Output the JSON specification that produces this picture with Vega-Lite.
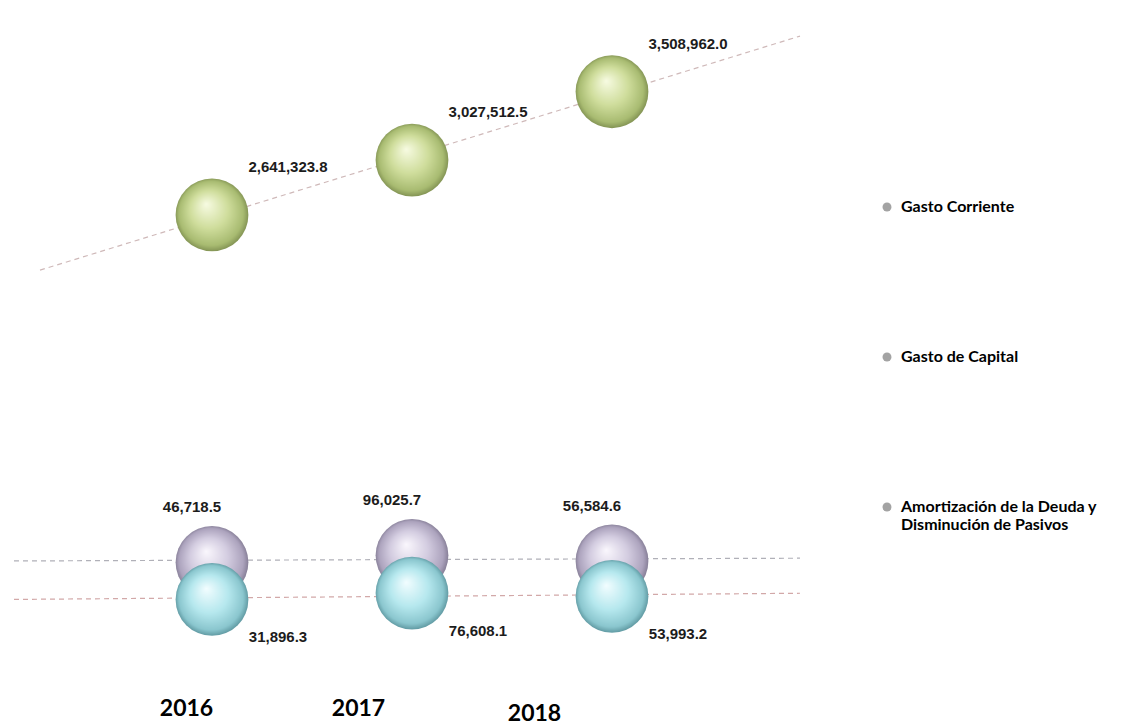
{
  "$schema": "https://vega.github.io/schema/vega-lite/v6.json",
  "width": 800,
  "height": 590,
  "autosize": {"type": "none"},
  "padding": {"left": 12, "top": 0, "right": 316, "bottom": 135},
  "background": "white",
  "config": {"view": {"stroke": null}},
  "data": {
    "values": [
      {"year": 2016, "serie": "Gasto Corriente", "value": 2641323.8},
      {"year": 2017, "serie": "Gasto Corriente", "value": 3027512.5},
      {"year": 2018, "serie": "Gasto Corriente", "value": 3508962.0},
      {"year": 2016, "serie": "Gasto de Capital", "value": 46718.5},
      {"year": 2017, "serie": "Gasto de Capital", "value": 96025.7},
      {"year": 2018, "serie": "Gasto de Capital", "value": 56584.6},
      {"year": 2016, "serie": "Amortización de la Deuda y Disminución de Pasivos", "value": 31896.3},
      {"year": 2017, "serie": "Amortización de la Deuda y Disminución de Pasivos", "value": 76608.1},
      {"year": 2018, "serie": "Amortización de la Deuda y Disminución de Pasivos", "value": 53993.2}
    ]
  },
  "encoding": {
    "x": {
      "field": "year", "type": "quantitative",
      "scale": {"domain": [2015, 2019], "nice": false, "zero": false},
      "axis": {
        "title": null, "domain": false, "ticks": false, "grid": false,
        "values": [2016, 2017, 2018], "format": "d",
        "labelFont": "Lato", "labelFontSize": 23, "labelFontWeight": "bold", "labelColor": "#000000",
        "labelPadding": {"condition": {"test": "datum.value === 2018", "value": 112}, "value": 107},
        "labelOffset": {"condition": [{"test": "datum.value === 2016", "value": -26}, {"test": "datum.value === 2017", "value": -54}], "value": -78}
      }
    },
    "y": {
      "field": "value", "type": "quantitative",
      "scale": {"domain": [0, 4155000], "nice": false, "zero": false},
      "axis": null
    }
  },
  "layer": [
    {
      "transform": [
        {"filter": "datum.serie === 'Gasto Corriente'"},
        {"regression": "value", "on": "year", "extent": [2015.14, 2018.94]}
      ],
      "mark": {"type": "line", "strokeDash": [5, 4], "strokeWidth": 1.2, "color": "#cfb9b9"}
    },
    {
      "transform": [
        {"filter": "datum.serie === 'Gasto de Capital'"},
        {"regression": "value", "on": "year", "extent": [2015.01, 2018.94]}
      ],
      "mark": {"type": "line", "strokeDash": [5, 4], "strokeWidth": 1.2, "color": "#b0b0b8", "yOffset": -21}
    },
    {
      "transform": [
        {"filter": "datum.serie === 'Amortización de la Deuda y Disminución de Pasivos'"},
        {"regression": "value", "on": "year", "extent": [2015.01, 2018.94]}
      ],
      "mark": {"type": "line", "strokeDash": [5, 4], "strokeWidth": 1.2, "color": "#d2a8a8", "yOffset": 14}
    },
    {
      "transform": [{"filter": "false"}],
      "mark": {"type": "point", "filled": true, "opacity": 1, "fill": "#a3a3a3", "stroke": "#7a7a7a", "strokeWidth": 0.6},
      "encoding": {
        "shape": {
          "field": "serie", "type": "nominal",
          "scale": {"domain": ["Gasto Corriente", "Gasto de Capital", "Amortización de la Deuda y Disminución de Pasivos"], "range": ["circle", "circle", "circle"]},
          "legend": {
            "title": null, "orient": "none", "legendX": 867, "legendY": 199, "direction": "vertical",
            "rowPadding": 134, "symbolSize": 80, "symbolFillColor": "#a3a3a3", "symbolStrokeColor": "#7a7a7a", "symbolStrokeWidth": 0.6,
            "labelFont": "Lato", "labelFontSize": 16, "labelFontWeight": "bold",
            "labelColor": "#000000", "labelOffset": 6, "labelLimit": 300,
            "labelExpr": "datum.label === 'Amortización de la Deuda y Disminución de Pasivos' ? ['Amortización de la Deuda y', 'Disminución de Pasivos'] : datum.label"
          }
        }
      }
    },
    {
      "transform": [{"filter": "datum.serie === 'Gasto de Capital'"}],
      "mark": {
        "type": "point", "filled": true, "size": 5300, "opacity": 1, "strokeWidth": 0, "yOffset": -21,
        "fill": {"gradient": "radial", "x1": 0.42, "y1": 0.35, "r1": 0, "x2": 0.5, "y2": 0.5, "r2": 0.52,
          "stops": [{"offset": 0, "color": "#faf7fd"}, {"offset": 0.5, "color": "#d3cce0"}, {"offset": 0.85, "color": "#aca3bd"}, {"offset": 1, "color": "#7c758d"}]}
      },
      "encoding": {
        "shape": {
          "field": "serie", "type": "nominal",
          "scale": {"domain": ["Gasto Corriente", "Gasto de Capital", "Amortización de la Deuda y Disminución de Pasivos"], "range": ["circle", "circle", "circle"]}
        }
      }
    },
    {
      "transform": [{"filter": "datum.serie === 'Amortización de la Deuda y Disminución de Pasivos'"}],
      "mark": {
        "type": "point", "filled": true, "size": 5300, "opacity": 1, "strokeWidth": 0, "yOffset": 14,
        "fill": {"gradient": "radial", "x1": 0.42, "y1": 0.35, "r1": 0, "x2": 0.5, "y2": 0.5, "r2": 0.52,
          "stops": [{"offset": 0, "color": "#f2fdff"}, {"offset": 0.5, "color": "#b6e8ee"}, {"offset": 0.85, "color": "#8ac6ce"}, {"offset": 1, "color": "#568f98"}]}
      },
      "encoding": {
        "shape": {
          "field": "serie", "type": "nominal",
          "scale": {"domain": ["Gasto Corriente", "Gasto de Capital", "Amortización de la Deuda y Disminución de Pasivos"], "range": ["circle", "circle", "circle"]}
        }
      }
    },
    {
      "transform": [{"filter": "datum.serie === 'Gasto Corriente'"}],
      "mark": {
        "type": "point", "filled": true, "size": 5300, "opacity": 1, "strokeWidth": 0,
        "fill": {"gradient": "radial", "x1": 0.42, "y1": 0.35, "r1": 0, "x2": 0.5, "y2": 0.5, "r2": 0.52,
          "stops": [{"offset": 0, "color": "#f7fbe2"}, {"offset": 0.5, "color": "#cfdd9c"}, {"offset": 0.85, "color": "#a8bb71"}, {"offset": 1, "color": "#7a8a4d"}]}
      },
      "encoding": {
        "shape": {
          "field": "serie", "type": "nominal",
          "scale": {"domain": ["Gasto Corriente", "Gasto de Capital", "Amortización de la Deuda y Disminución de Pasivos"], "range": ["circle", "circle", "circle"]}
        }
      }
    },
    {
      "transform": [{"filter": "datum.serie === 'Gasto Corriente'"}],
      "mark": {"type": "text", "font": "Liberation Sans", "fontSize": 15, "fontWeight": "bold", "color": "#1c1c1c", "dx": 76, "dy": -48},
      "encoding": {"text": {"field": "value", "type": "quantitative", "format": ",.1f"}}
    },
    {
      "transform": [{"filter": "datum.serie === 'Gasto de Capital'"}],
      "mark": {"type": "text", "font": "Liberation Sans", "fontSize": 15, "fontWeight": "bold", "color": "#1c1c1c", "dx": -20, "dy": -55, "yOffset": -21},
      "encoding": {"text": {"field": "value", "type": "quantitative", "format": ",.1f"}}
    },
    {
      "transform": [{"filter": "datum.serie === 'Amortización de la Deuda y Disminución de Pasivos'"}],
      "mark": {"type": "text", "font": "Liberation Sans", "fontSize": 15, "fontWeight": "bold", "color": "#1c1c1c", "dx": 66, "dy": 38, "yOffset": 14},
      "encoding": {"text": {"field": "value", "type": "quantitative", "format": ",.1f"}}
    }
  ]
}
